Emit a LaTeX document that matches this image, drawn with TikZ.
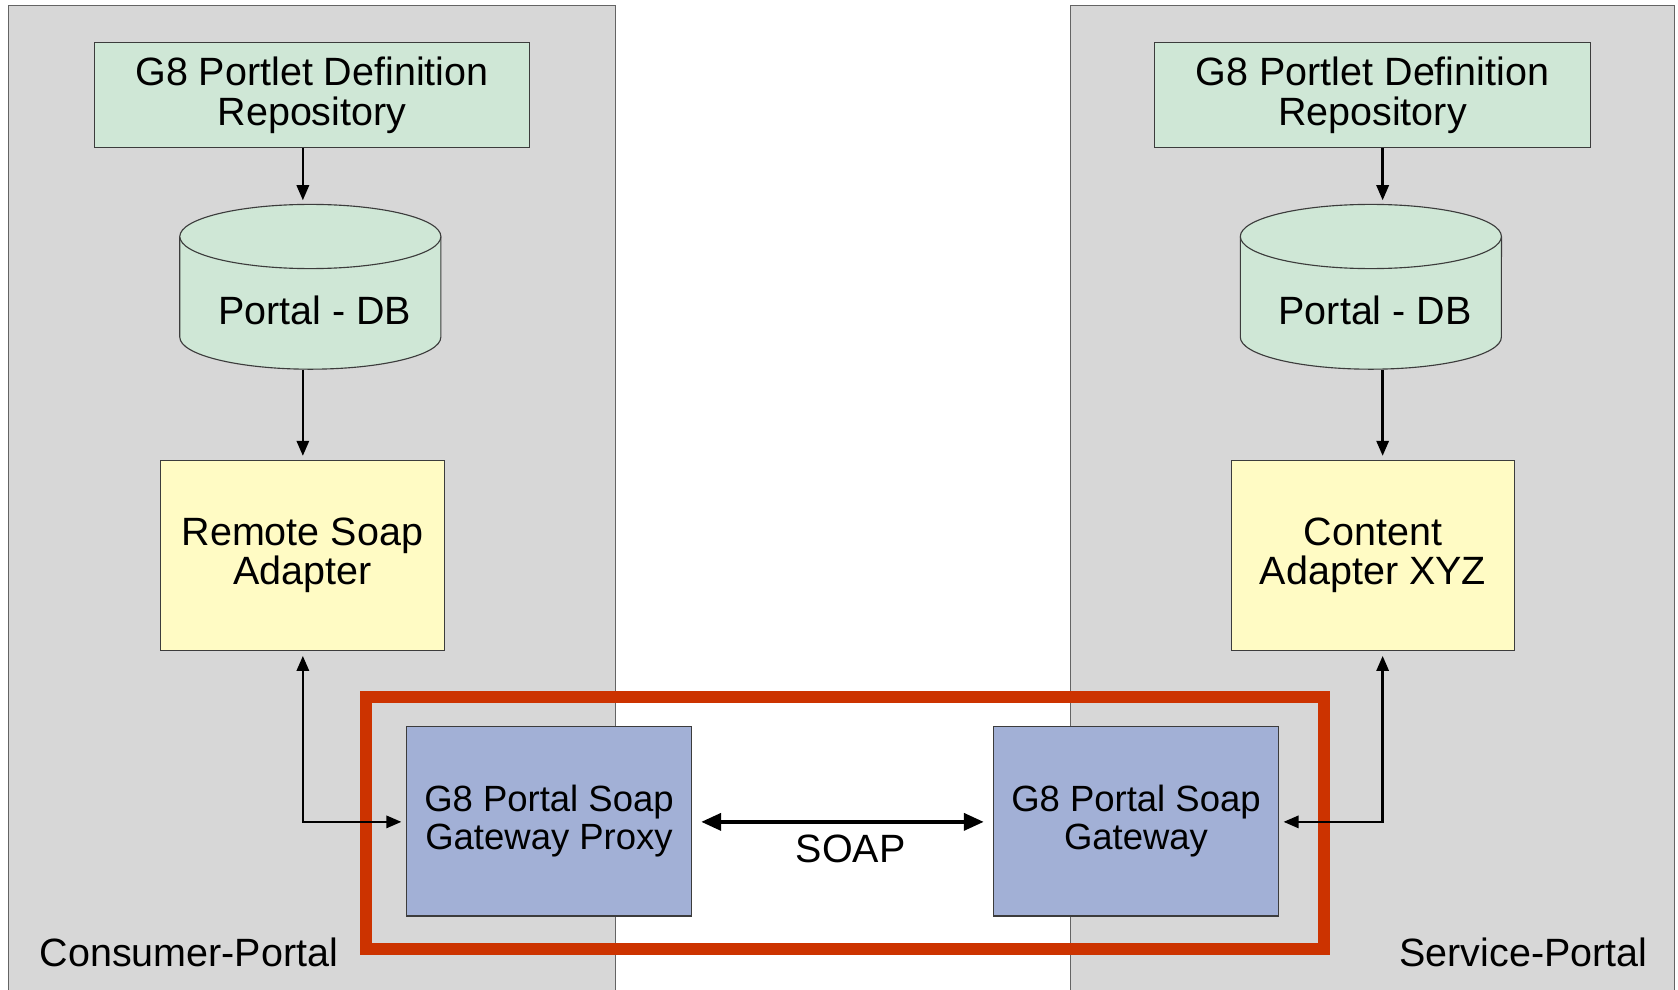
\documentclass[tikz,border=0pt]{standalone}
\usepackage{fontspec}
\setmainfont{Liberation Sans}
\usetikzlibrary{arrows.meta}
\definecolor{panelgray}{RGB}{215,215,215}
\definecolor{panelline}{RGB}{100,100,100}
\definecolor{boxline}{RGB}{60,60,60}
\definecolor{greenfill}{RGB}{207,231,214}
\definecolor{yellowfill}{RGB}{255,251,196}
\definecolor{bluefill}{RGB}{162,176,214}
\definecolor{redframe}{RGB}{204,51,0}
\begin{document}
\begin{tikzpicture}[x=0.02cm,y=0.02cm,
  box/.style={draw=boxline, line width=0.6pt, inner sep=0pt, align=center,
    font=\fontsize{21}{21}\selectfont},
  greenbox/.style={box, fill=greenfill, minimum width=8.14cm, minimum height=1.96cm},
  yellowbox/.style={box, fill=yellowfill, minimum width=5.3cm, minimum height=3.56cm},
  bluebox/.style={box, fill=bluefill, minimum width=5.32cm, minimum height=3.54cm,
    font=\fontsize{19.4}{20}\selectfont},
  dbshape/.style={draw=boxline, line width=0.6pt, fill=greenfill},
  dbbox/.style={inner sep=0pt, minimum width=4.88cm, minimum height=3.08cm},
  lbl/.style={inner sep=0pt, font=\fontsize{21}{21}\selectfont},
  conn/.style={line width=1.3pt, -{Triangle[length=8pt,width=6.5pt]}},
  biconn/.style={line width=1.3pt, {Triangle[length=8pt,width=6.5pt]}-{Triangle[length=8pt,width=6.5pt]}},
  soapconn/.style={line width=1.9pt, {Triangle[length=10.5pt,width=9pt]}-{Triangle[length=10.5pt,width=9pt]}},
  panel/.style={fill=panelgray, draw=panelline, line width=0.6pt}
]
\useasboundingbox (0,0) rectangle (1568,-925);
\clip (0,0) rectangle (1568,-925);

% panels
\draw[panel] (8,-5) rectangle (575,-940);
\draw[panel] (1000,-5) rectangle (1565,-940);

% cylinders
\foreach \cx in {290,1281}{
  \fill[greenfill] (\cx-122,-221) -- (\cx-122,-315) arc (180:360:2.44cm and 0.6cm)
    -- (\cx+122,-221) arc (0:180:2.44cm and 0.6cm) -- cycle;
  \draw[dbshape, fill=none] (\cx-122,-221) -- (\cx-122,-315) arc (180:360:2.44cm and 0.6cm)
    -- (\cx+122,-221);
  \draw[dbshape] (\cx,-221) ellipse (2.44cm and 0.6cm);
}
\node[dbbox] (db1) at (290,-268) {};
\node[dbbox] (db2) at (1281,-268) {};
\node[lbl] (db1t) at (294,-290) {Portal - DB};
\node[lbl] (db2t) at (1285,-290) {Portal - DB};

% boxes
\node[greenbox] (g1) at (291.5,-89) {G8 Portlet Definition\\Repository};
\node[greenbox] (g2) at (1282.5,-89) {G8 Portlet Definition\\Repository};
\node[yellowbox] (y1) at (282.5,-519) {Remote Soap\\Adapter};
\node[yellowbox] (y2) at (1283,-519) {Content\\Adapter XYZ};
\node[bluebox] (b1) at (513,-767.5) {G8 Portal Soap\\Gateway Proxy};
\node[bluebox] (b2) at (1061.5,-767.5) {G8 Portal Soap\\Gateway};

% red frame
\draw[redframe, line width=6.3pt] (342,-651) rectangle (1237,-887);

% connector columns
\coordinate (la) at (283,0);
\coordinate (ra) at (1292,0);
\coordinate (lv) at (0,-768);

\draw[conn, shorten >=2pt] (g1.south -| la) -- (db1.north -| la);
\draw[conn, shorten >=2pt] (db1.south -| la) -- (y1.north -| la);
\draw[conn, shorten >=2pt] (g2.south -| ra) -- (db2.north -| ra);
\draw[conn, shorten >=2pt] (db2.south -| ra) -- (y2.north -| ra);

\draw[biconn, shorten <=2.5pt, shorten >=2.5pt] (y1.south -| la) |- (b1.west |- lv);
\draw[biconn, shorten <=2.5pt, shorten >=2.5pt] (y2.south -| ra) |- (b2.east |- lv);

\draw[soapconn, shorten <=5pt, shorten >=5pt] (b1.east |- lv) -- (b2.west |- lv);
\node[lbl] (soap) at (795,-793) {SOAP};

% panel labels
\node[lbl] (cp) at (176.5,-890) {Consumer-Portal};
\node[lbl] (sp) at (1423.5,-890) {Service-Portal};
\end{tikzpicture}
\end{document}
